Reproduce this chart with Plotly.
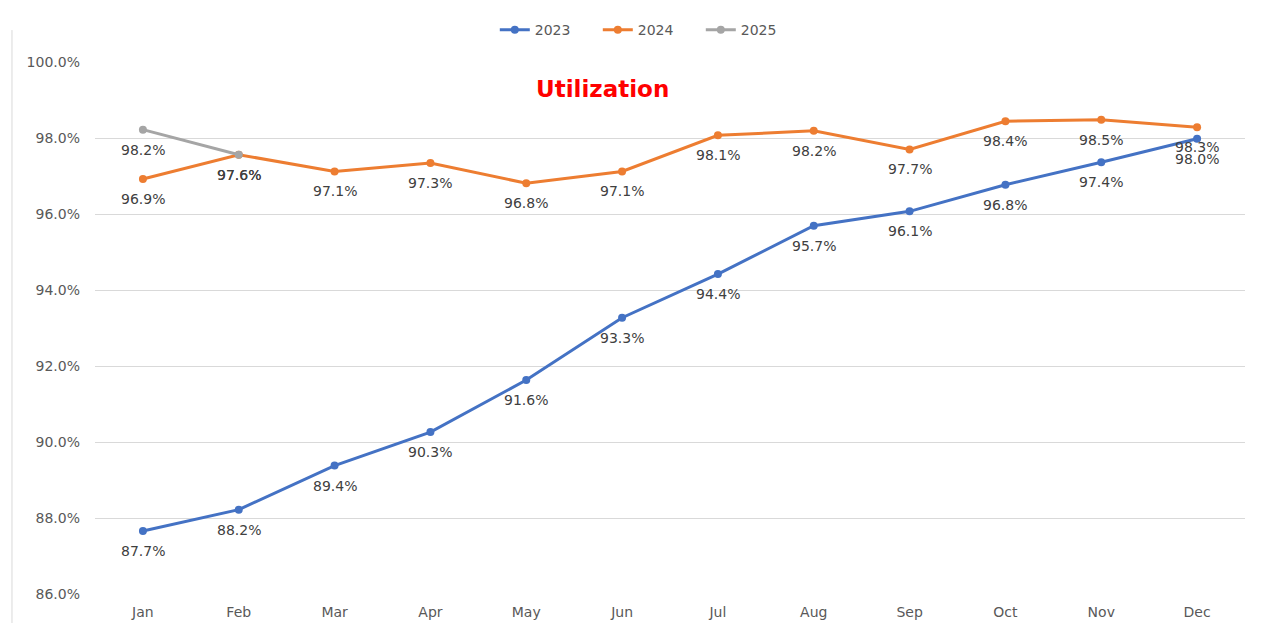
import plotly.graph_objects as go

MONTHS = ['Jan', 'Feb', 'Mar', 'Apr', 'May', 'Jun', 'Jul', 'Aug', 'Sep', 'Oct', 'Nov', 'Dec']
UTIL_2023 = [87.66, 88.22, 89.38, 90.26, 91.63, 93.27, 94.42, 95.69, 96.07, 96.77, 97.36, 97.98]
UTIL_2024 = [96.92, 97.56, 97.12, 97.34, 96.81, 97.12, 98.07, 98.19, 97.70, 98.44, 98.48, 98.28]
UTIL_2025 = [98.22, 97.56]
YEARS = ['2023', '2024', '2025']
COLORS = ['#4472C4', '#ED7D31', '#A5A5A5']

LABEL_FONT = dict(family='DejaVu Sans', size=14, color='#404040')

fig = go.Figure()
annotations = []
for name, vals, col in zip(YEARS, [UTIL_2023, UTIL_2024, UTIL_2025], COLORS):
    x = MONTHS[:len(vals)]
    fig.add_trace(go.Scatter(x=x, y=vals, mode='lines+markers', name=name,
                             line={'width': 3, 'color': col},
                             marker={'size': 8, 'color': col}))
    # data labels sit a little under each point, like the spreadsheet chart
    for m, v in zip(x, vals):
        annotations.append(dict(x=m, y=v, xref='x', yref='y', text=f'{v:.1f}%',
                                showarrow=False, yshift=-20, font=LABEL_FONT))

annotations.append(dict(text='<b>Utilization</b>', x=0.441, y=0.949, xref='paper', yref='paper',
                        showarrow=False, xanchor='center', yanchor='middle',
                        font=dict(family='DejaVu Sans', size=23, color='#FF0000')))

# the page body has an 8px margin, so the figure is 16px smaller than the window
fig.update_layout(
    width=1252, height=615,
    margin=dict(l=87, r=15, t=54, b=29, autoexpand=False),
    plot_bgcolor='white', paper_bgcolor='white',
    annotations=annotations,
    showlegend=True,
    legend=dict(orientation='h', x=0.482, xanchor='center', y=1.06, yanchor='middle',
                font=dict(family='DejaVu Sans', size=14, color='#595959'),
                entrywidth=58, entrywidthmode='pixels', tracegroupgap=0),
    shapes=[
        dict(type='line', xref='paper', yref='paper', x0=-0.0722, x1=-0.0722, y0=-0.06, y1=1.06,
             line=dict(color='#D9D9D9', width=1)),
    ],
)
fig.update_xaxes(type='category', range=[-0.5, 11.5], showgrid=False, showline=False,
                 ticks='', ticklabelstandoff=8, automargin=False,
                 tickfont=dict(family='DejaVu Sans', size=14, color='#595959'))
fig.update_yaxes(range=[86, 100], dtick=2, tick0=86, ticksuffix='%', tickformat='.1f',
                 showgrid=True, gridcolor='#D9D9D9', gridwidth=1, zeroline=False,
                 showline=False, ticks='', ticklabelstandoff=14, automargin=False,
                 tickfont=dict(family='DejaVu Sans', size=14, color='#595959'))

fig.write_html('out.html')
